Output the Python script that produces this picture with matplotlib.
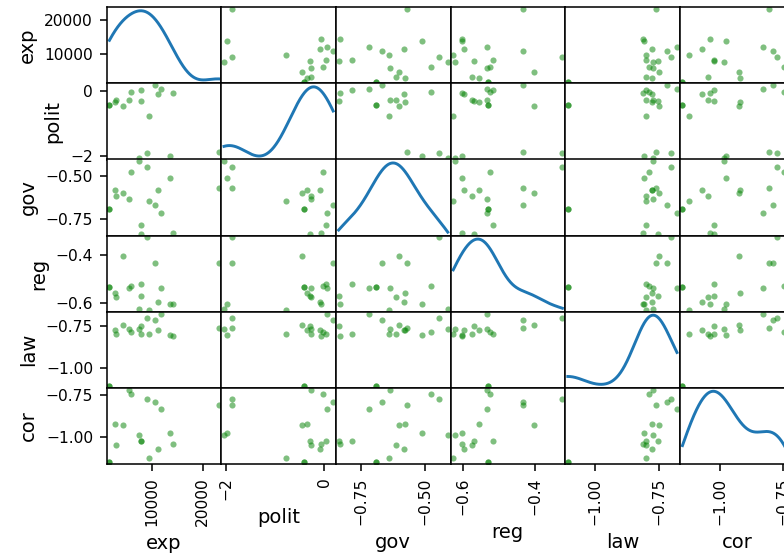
import numpy as np
import matplotlib
matplotlib.use("Agg")
import matplotlib.pyplot as plt

# column names of the frame
names = ["exp", "polit", "gov", "reg", "law", "cor"]

exp = [1690, 1690, 2800, 2910, 4420, 5615, 6000, 7510, 7825, 7960,
       9020, 9450, 10690, 11340, 11880, 13665, 14185, 23160]
polit = [-0.412, -0.412, -0.342, -0.272, -0.459, -0.272, -0.024, -2.040, -0.290, 0.037,
         -1.885, -0.772, 0.187, -0.085, 0.056, -1.979, -0.063, -1.874]
gov = [-0.693, -0.693, -0.577, -0.615, -0.600, -0.635, -0.476, -0.411, -0.837, -0.784,
       -0.447, -0.642, -0.666, -0.580, -0.717, -0.510, -0.830, -0.570]
reg = [-0.531, -0.531, -0.556, -0.575, -0.403, -0.535, -0.527, -0.624, -0.569, -0.518,
       -0.325, -0.628, -0.433, -0.597, -0.535, -0.604, -0.604, -0.433]
law = [-1.105, -1.105, -0.778, -0.798, -0.749, -0.771, -0.789, -0.771, -0.753, -0.798,
       -0.704, -0.798, -0.719, -0.775, -0.679, -0.807, -0.811, -0.762]
cor = [-1.148, -1.148, -0.919, -1.046, -0.926, -0.717, -0.745, -0.985, -1.023, -1.023,
       -0.774, -1.123, -0.791, -1.069, -0.831, -0.974, -1.041, -0.806]

data = [np.array(v, dtype=float) for v in (exp, polit, gov, reg, law, cor)]
n = len(names)


# gaussian kde with scott's rule (same as scipy's default)
def kde(vals, grid):
    bw = vals.std(ddof=1) * len(vals) ** -0.2
    z = (grid[:, None] - vals[None, :]) / bw
    return np.exp(-0.5 * z ** 2).sum(axis=1) / (len(vals) * bw * np.sqrt(2 * np.pi))


# same 5% range padding as pandas scatter_matrix
lims = []
for v in data:
    pad = (v.max() - v.min()) * 0.05 / 2
    lims.append((v.min() - pad, v.max() + pad))

fig = plt.figure(figsize=(5.6, 4.0), dpi=140)
left, top = 106.7 / 784, 1 - 7.3 / 560
cw, rh = 114.6 / 784, 76.1 / 560

axes = np.empty((n, n), dtype=object)
for i in range(n):
    for j in range(n):
        ax = fig.add_axes([left + j * cw, top - (i + 1) * rh, cw, rh])
        axes[i, j] = ax
        if i == j:
            xs = np.linspace(data[i].min(), data[i].max(), 1000)
            ax.plot(xs, kde(data[i], xs))
            ax.set_xlim(lims[i])
        else:
            ax.scatter(data[j], data[i], marker=".", s=40, alpha=0.5,
                       color="green", linewidths=0)
            ax.set_xlim(lims[j])
            ax.set_ylim(lims[i])
        ax.set_xlabel(names[j])
        ax.set_ylabel(names[i])
        if j != 0:
            ax.yaxis.set_visible(False)
        if i != n - 1:
            ax.xaxis.set_visible(False)
        ax.tick_params(axis="x", labelsize=8, labelrotation=90)
        ax.tick_params(axis="y", labelsize=8, labelrotation=0)

# top-left kde panel shows the exp scale borrowed from its neighbour
lim1 = lims[0]
locs = axes[0, 1].yaxis.get_majorticklocs()
locs = locs[(lim1[0] <= locs) & (locs <= lim1[1])]
adj = (locs - lim1[0]) / (lim1[1] - lim1[0])
lim0 = axes[0, 0].get_ylim()
axes[0, 0].yaxis.set_ticks(adj * (lim0[1] - lim0[0]) + lim0[0])
if np.all(locs == locs.astype(int)):
    locs = locs.astype(int)
axes[0, 0].yaxis.set_ticklabels(locs)
axes[0, 0].tick_params(axis="y", labelsize=8, labelrotation=0)

fig.savefig("out.png", dpi=140)
